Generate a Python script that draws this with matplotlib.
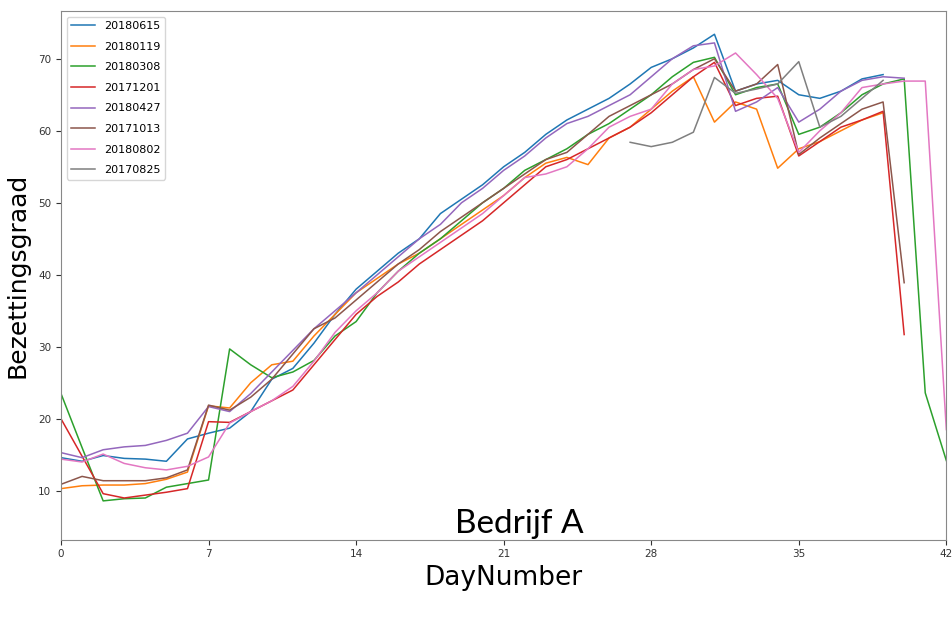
import matplotlib
matplotlib.use("Agg")
import matplotlib.pyplot as plt

# series labels in legend order (pandas default colour cycle)
labels = ["20180615", "20180119", "20180308", "20171201",
          "20180427", "20171013", "20180802", "20170825"]

# first DayNumber of each series
start_day = [0, 0, 0, 0, 0, 0, 0, 27]

s20180615 = [14.6, 14.1, 14.9, 14.5, 14.4, 14.1, 17.2, 18.0, 18.7, 21.0,
             25.5, 27.0, 30.5, 34.5, 38.0, 40.5, 43.0, 45.0, 48.5, 50.5,
             52.5, 55.0, 57.0, 59.5, 61.5, 63.0, 64.5, 66.5, 68.8, 70.0,
             71.5, 73.4, 65.5, 66.5, 67.0, 65.0, 64.5, 65.5, 67.2, 67.8]
s20180119 = [10.3, 10.7, 10.8, 10.8, 11.0, 11.6, 12.6, 21.8, 21.5, 25.0,
             27.5, 28.0, 31.5, 34.5, 37.5, 39.5, 41.5, 43.0, 45.0, 47.0,
             49.0, 51.0, 53.5, 55.5, 56.3, 55.3, 59.0, 60.5, 63.0, 65.5,
             67.5, 61.2, 64.0, 63.0, 54.8, 57.5, 58.5, 60.0, 61.5, 62.5]
s20180308 = [23.5, 16.0, 8.6, 8.9, 9.0, 10.5, 11.0, 11.5, 29.7, 27.5,
             25.7, 26.5, 28.1, 31.5, 33.5, 37.5, 40.5, 43.0, 45.0, 47.5,
             50.0, 52.0, 54.5, 56.0, 57.5, 59.5, 61.0, 63.0, 65.0, 67.5,
             69.5, 70.2, 65.0, 66.0, 66.5, 59.5, 60.5, 62.5, 65.0, 66.5,
             67.2, 23.6, 14.2]
s20171201 = [20.0, 14.8, 9.6, 9.0, 9.4, 9.8, 10.3, 19.6, 19.5, 21.0,
             22.5, 24.0, 27.5, 31.0, 34.5, 37.0, 39.0, 41.5, 43.5, 45.5,
             47.5, 50.0, 52.5, 55.0, 56.0, 57.5, 59.0, 60.5, 62.5, 65.0,
             67.5, 69.5, 63.5, 64.5, 64.8, 56.5, 58.5, 60.5, 61.5, 62.7,
             31.7]
s20180427 = [15.3, 14.6, 15.7, 16.1, 16.3, 17.0, 18.0, 21.7, 21.0, 23.5,
             26.5, 29.5, 32.5, 35.0, 37.5, 40.0, 42.5, 45.0, 47.0, 50.0,
             52.0, 54.5, 56.5, 59.0, 61.0, 62.0, 63.5, 65.0, 67.5, 70.0,
             71.8, 72.2, 62.7, 64.0, 66.0, 61.2, 63.0, 65.5, 67.0, 67.5,
             67.3]
s20171013 = [10.9, 12.0, 11.4, 11.4, 11.4, 11.8, 12.9, 21.9, 21.2, 23.0,
             25.5, 29.0, 32.5, 34.0, 36.5, 39.0, 41.5, 43.5, 46.0, 48.0,
             50.0, 52.0, 54.0, 56.0, 57.0, 59.5, 62.0, 63.5, 65.0, 66.5,
             68.5, 70.0, 65.5, 66.5, 69.2, 56.7, 59.0, 61.0, 63.0, 64.0,
             38.9]
s20180802 = [14.4, 14.0, 15.1, 13.8, 13.2, 12.9, 13.4, 14.7, 19.4, 21.0,
             22.5, 24.5, 28.0, 32.0, 35.0, 37.5, 40.5, 42.5, 44.5, 46.5,
             48.5, 51.0, 53.5, 54.0, 55.0, 57.5, 60.5, 62.0, 63.0, 66.5,
             68.5, 69.0, 70.8, 67.8, 64.5, 57.0, 60.0, 62.5, 66.0, 66.5,
             66.9, 66.9, 18.5]
s20170825 = [58.4, 57.8, 58.4, 59.8, 67.4, 65.2, 65.8, 66.5, 69.6, 60.5,
             62.0, 64.5, 67.0]

series = [s20180615, s20180119, s20180308, s20171201,
          s20180427, s20171013, s20180802, s20170825]

x_ticks = [0, 7, 14, 21, 28, 35, 42]

fig = plt.figure(figsize=(9.53, 6.24), dpi=100)
ax = fig.add_axes([0.064, 0.135, 0.929, 0.847])

for lab, s0, vals in zip(labels, start_day, series):
    days = list(range(s0, s0 + len(vals)))
    ax.plot(days, vals, linewidth=1.1, label=lab)

ax.set_xlim(0, 42)
ax.set_ylim(3.2, 76.6)
ax.set_xticks(x_ticks)
ax.tick_params(labelsize=7.5, colors="#333333")
for sp in ax.spines.values():
    sp.set_color("#888888")

ax.set_xlabel("DayNumber", fontsize=19, labelpad=4)
ax.set_ylabel("Bezettingsgraad", fontsize=18, labelpad=6)
ax.legend(loc="upper left", fontsize=8, labelspacing=0.95, handlelength=2.2)

fig.text(0.545, 0.16, "Bedrijf A", fontsize=24, family="Lato",
         ha="center", va="center")

fig.savefig("out.png", dpi=100)
